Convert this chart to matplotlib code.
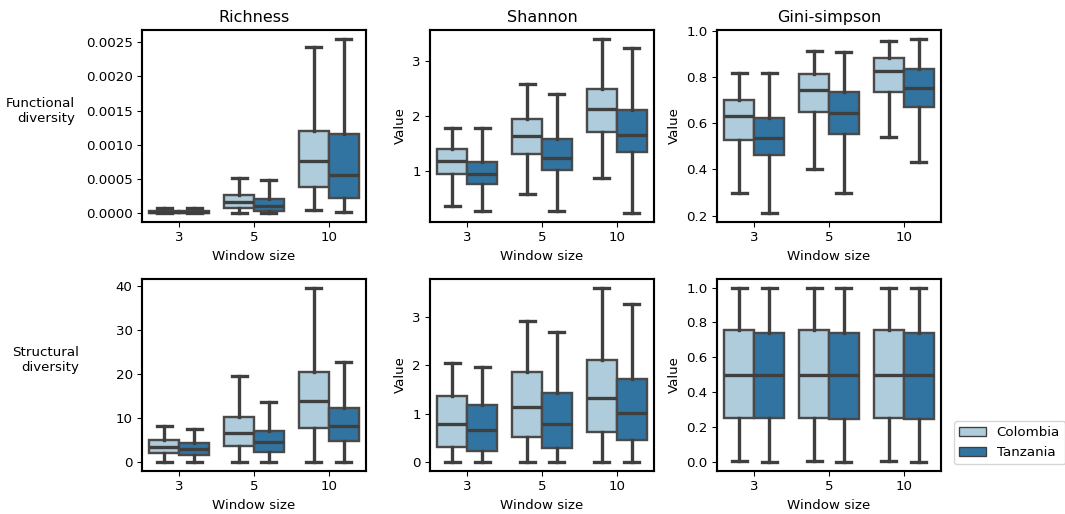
import colorsys
import numpy as np
import matplotlib
matplotlib.use("Agg")
import matplotlib.pyplot as plt
from matplotlib.colors import to_rgb
from matplotlib.patches import Patch
from matplotlib.ticker import MultipleLocator

windows = ["3", "5", "10"]
countries = ["Colombia", "Tanzania"]
metrics = ["Richness", "Shannon", "Gini-simpson"]
rows = ["Functional\ndiversity", "Structural\ndiversity"]

# box stats per window: [whislo, q1, median, q3, whishi]
func_richness_col = [[0.0, 0.00001, 0.00002, 0.00004, 0.00008],
                     [0.00001, 0.00008, 0.00017, 0.00026, 0.00052],
                     [0.00005, 0.00039, 0.00076, 0.00120, 0.00243]]
func_richness_tan = [[0.0, 0.00001, 0.00002, 0.00003, 0.00008],
                     [0.0, 0.00004, 0.00010, 0.00021, 0.00048],
                     [0.00002, 0.00023, 0.00056, 0.00116, 0.00255]]
func_shannon_col = [[0.38, 0.96, 1.19, 1.40, 1.79],
                    [0.59, 1.32, 1.65, 1.95, 2.59],
                    [0.88, 1.71, 2.14, 2.50, 3.41]]
func_shannon_tan = [[0.28, 0.78, 0.95, 1.18, 1.78],
                    [0.28, 1.02, 1.25, 1.58, 2.41],
                    [0.24, 1.35, 1.67, 2.12, 3.24]]
func_gini_col = [[0.297, 0.527, 0.630, 0.700, 0.815],
                 [0.400, 0.646, 0.742, 0.812, 0.913],
                 [0.540, 0.736, 0.824, 0.881, 0.955]]
func_gini_tan = [[0.210, 0.460, 0.535, 0.624, 0.815],
                 [0.297, 0.555, 0.642, 0.736, 0.907],
                 [0.430, 0.670, 0.751, 0.832, 0.965]]
struct_richness_col = [[0.0, 2.0, 3.4, 5.15, 8.2],
                       [0.0, 3.6, 6.75, 10.4, 19.7],
                       [0.0, 7.8, 13.9, 20.6, 39.7]]
struct_richness_tan = [[0.0, 1.65, 2.95, 4.3, 7.65],
                       [0.0, 2.35, 4.5, 7.0, 13.8],
                       [0.0, 4.9, 8.2, 12.3, 22.7]]
struct_shannon_col = [[0.0, 0.31, 0.79, 1.36, 2.05],
                      [0.0, 0.53, 1.15, 1.86, 2.91],
                      [0.0, 0.62, 1.32, 2.10, 3.60]]
struct_shannon_tan = [[0.0, 0.24, 0.67, 1.19, 1.97],
                      [0.0, 0.29, 0.79, 1.43, 2.69],
                      [0.0, 0.45, 1.02, 1.71, 3.26]]
struct_gini_col = [[0.003, 0.25, 0.50, 0.758, 1.0],
                   [0.003, 0.25, 0.50, 0.758, 1.0],
                   [0.003, 0.25, 0.50, 0.758, 1.0]]
struct_gini_tan = [[-0.004, 0.25, 0.50, 0.740, 1.0],
                   [-0.004, 0.245, 0.50, 0.740, 1.0],
                   [-0.004, 0.245, 0.50, 0.740, 1.0]]

panels = [[(func_richness_col, func_richness_tan),
           (func_shannon_col, func_shannon_tan),
           (func_gini_col, func_gini_tan)],
          [(struct_richness_col, struct_richness_tan),
           (struct_shannon_col, struct_shannon_tan),
           (struct_gini_col, struct_gini_tan)]]


def desat(c, prop=0.75):
    h, l, s = colorsys.rgb_to_hls(*to_rgb(c))
    return colorsys.hls_to_rgb(h, l, s * prop)


colors = [desat("#a6cee3"), desat("#1f78b4")]
gray = "#3f3f3f"

W, H, DPI = 1065, 514, 96
fig = plt.figure(figsize=(W / DPI, H / DPI), dpi=DPI)

lefts = [142, 430, 717]
tops = [30, 279]
aw, ah = 224, 192


def to_stats(vals):
    lo, q1, med, q3, hi = vals
    return dict(whislo=lo, q1=q1, med=med, q3=q3, whishi=hi, fliers=[])


for r in range(2):
    for c in range(3):
        ax = fig.add_axes([lefts[c] / W, 1 - (tops[r] + ah) / H, aw / W, ah / H])
        for k, data in enumerate(panels[r][c]):
            pos = np.arange(len(windows)) + (k - 0.5) * 0.4
            ax.bxp([to_stats(v) for v in data], positions=pos, widths=0.4,
                   patch_artist=True, showfliers=False, manage_ticks=False,
                   boxprops=dict(facecolor=colors[k], edgecolor="#4a4a4a", linewidth=1.8),
                   whiskerprops=dict(color=gray, linewidth=2.5),
                   capprops=dict(color=gray, linewidth=2.5),
                   medianprops=dict(color=gray, linewidth=2.5))
        ax.set_xticks(np.arange(len(windows)))
        ax.set_xticklabels(windows)
        ax.set_xlim(-0.5, len(windows) - 0.5)
        ax.set_xlabel("Window size")
        ax.margins(y=0.05)
        if c == 1:
            ax.yaxis.set_major_locator(MultipleLocator(1))
        for sp in ax.spines.values():
            sp.set_linewidth(1.6)
        if r == 0:
            ax.set_title(metrics[c], fontsize=12)
        if c > 0:
            ax.set_ylabel("Value")
        if r == 1 and c == 2:
            handles = [Patch(facecolor=colors[i], edgecolor=gray, label=countries[i])
                       for i in range(2)]
            ax.legend(handles=handles, loc="lower left", bbox_to_anchor=(1.028, 0.0))

fig.text(75 / W, 1 - 111 / H, rows[0], ha="right", va="center", multialignment="right")
fig.text(79 / W, 1 - 360 / H, rows[1], ha="right", va="center", multialignment="right")

fig.savefig("out.png", dpi=DPI)
